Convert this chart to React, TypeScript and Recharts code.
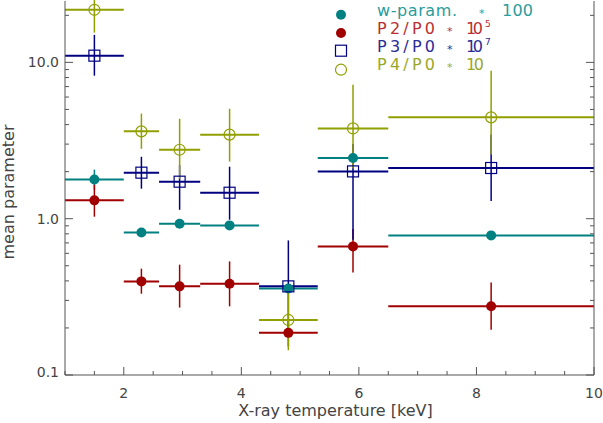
/** Mean multipole parameters against cluster X-ray temperature, log y axis */

import { ErrorBar, Label, Scatter, ScatterChart, XAxis, YAxis } from "recharts";

// temperature bins [keV]
const temperature = [1.5, 2.3, 2.95, 3.8, 4.8, 5.9, 8.25];
const binLow = [1.0, 2.0, 2.6, 3.3, 4.3, 5.3, 6.5];
const binHigh = [2.0, 2.6, 3.3, 4.3, 5.3, 6.5, 10.0];

// w-param. * 100
const wParam = [1.78, 0.817, 0.929, 0.906, 0.358, 2.445, 0.782];
const wParamLow = [1.53, 0.79, 0.9, 0.88, 0.345, 2.36, 0.765];
const wParamHigh = [2.06, 0.845, 0.955, 0.93, 0.372, 2.54, 0.8];

// P2/P0 * 1e5
const p2 = [1.31, 0.397, 0.369, 0.384, 0.186, 0.665, 0.275];
const p2Low = [1.03, 0.331, 0.27, 0.275, 0.152, 0.453, 0.195];
const p2High = [1.65, 0.479, 0.508, 0.533, 0.22, 0.86, 0.39];

// P3/P0 * 1e7
const p3 = [11.04, 1.97, 1.725, 1.466, 0.369, 2.007, 2.11];
const p3Low = [8.22, 1.556, 1.14, 0.985, 0.2, 0.734, 1.3];
const p3High = [15.0, 2.49, 2.2, 2.15, 0.726, 3.0, 3.45];

// P4/P0 * 10
const p4 = [21.7, 3.62, 2.76, 3.45, 0.225, 3.78, 4.45];
const p4Low = [15.5, 2.8, 1.8, 2.32, 0.144, 2.1, 2.57];
const p4High = [30.0, 4.7, 4.36, 5.05, 0.343, 7.2, 8.85];

const xTicks = [1, 1.5, 2, 2.5, 3, 3.5, 4, 4.5, 5, 5.5, 6, 6.5, 7, 7.5, 8, 8.5, 9, 9.5, 10];
const xTickLabels = [2, 4, 6, 8, 10];
const yTicks = [
	0.1, 0.2, 0.3, 0.4, 0.5, 0.6, 0.7, 0.8, 0.9, 1, 2, 3, 4, 5, 6, 7, 8, 9, 10, 20,
];
const yTickLabels: Record<number, string> = { 0.1: "0.1", 1: "1.0", 10: "10.0" };

const TEAL = "#008080";
const RED = "#a00000";
const NAVY = "#000080";
const OLIVE = "#919f00";
const AXIS = "#555";
const FONT = "DejaVu Sans";

function makePoints(values: number[], low: number[], high: number[]) {
	return temperature.map((t, i) => ({
		x: t,
		y: values[i],
		xErr: [t - binLow[i], binHigh[i] - t],
		yErr: [values[i] - low[i], high[i] - values[i]],
	}));
}

const wData = makePoints(wParam, wParamLow, wParamHigh);
const p2Data = makePoints(p2, p2Low, p2High);
const p3Data = makePoints(p3, p3Low, p3High);
const p4Data = makePoints(p4, p4Low, p4High);

function BottomTick(props: any) {
	const { x, y, payload } = props;
	const major = xTickLabels.includes(payload.value);
	return (
		<g>
			<line x1={x} x2={x} y1={y} y2={y - (major ? 8 : 4)} stroke={AXIS} />
			{major && (
				<text x={x} y={y + 23} textAnchor="middle" fontSize={14} fill="#444" fontFamily={FONT}>
					{payload.value}
				</text>
			)}
		</g>
	);
}

function TopTick(props: any) {
	const { x, y, payload } = props;
	const major = xTickLabels.includes(payload.value);
	return <line x1={x} x2={x} y1={y} y2={y + (major ? 8 : 4)} stroke={AXIS} />;
}

function LeftTick(props: any) {
	const { x, y, payload } = props;
	const label = yTickLabels[payload.value];
	return (
		<g>
			<line x1={x} x2={x + (label ? 8 : 4)} y1={y} y2={y} stroke={AXIS} />
			{label && (
				<text
					x={x - 6}
					y={y + (payload.value === 0.1 ? 2 : 5)}
					textAnchor="end"
					fontSize={14}
					fill="#444"
					fontFamily={FONT}
				>
					{label}
				</text>
			)}
		</g>
	);
}

function RightTick(props: any) {
	const { x, y, payload } = props;
	const major = yTickLabels[payload.value] !== undefined;
	return <line x1={x} x2={x - (major ? 8 : 4)} y1={y} y2={y} stroke={AXIS} />;
}

const filledDot = (color: string) => (props: any) => (
	<circle cx={props.cx} cy={props.cy} r={5} fill={color} />
);
const openSquare = (props: any) => (
	<rect x={props.cx - 5.5} y={props.cy - 5.5} width={11} height={11} fill="none" stroke={NAVY} strokeWidth={1.2} />
);
const openCircle = (props: any) => (
	<circle cx={props.cx} cy={props.cy} r={5.5} fill="none" stroke={OLIVE} strokeWidth={1.2} />
);

function Legend() {
	const text = { fontFamily: FONT, fontSize: 16 };
	const star = { fontFamily: FONT, fontSize: 11 };
	const sup = { fontFamily: FONT, fontSize: 9 };
	return (
		<svg width={603} height={423} style={{ position: "absolute", left: 0, top: 0, pointerEvents: "none" }}>
			<circle cx={341} cy={14.7} r={5} fill={TEAL} />
			<circle cx={341} cy={33} r={5} fill={RED} />
			<rect x={335.5} y={45.2} width={11} height={11} fill="none" stroke={NAVY} strokeWidth={1.2} />
			<circle cx={341} cy={69.7} r={5.5} fill="none" stroke={OLIVE} strokeWidth={1.2} />

			<g fill="#2a9c9c">
				<text x={377} y={16} {...text} textLength={80}>w-param.</text>
				<text x={479} y={16.5} {...star}>*</text>
				<text x={502} y={16} {...text} textLength={31}>100</text>
			</g>
			<g fill="#b83030">
				<text x={377} y={34} {...text} textLength={58}>P2/P0</text>
				<text x={447} y={34.5} {...star}>*</text>
				<text x={466} y={34} {...text} textLength={17}>10</text>
				<text x={485} y={27} {...sup}>5</text>
			</g>
			<g fill="#2c2c94">
				<text x={377} y={52} {...text} textLength={58}>P3/P0</text>
				<text x={447} y={52.5} {...star}>*</text>
				<text x={466} y={52} {...text} textLength={17}>10</text>
				<text x={485} y={45} {...sup}>7</text>
			</g>
			<g fill="#9aa82a">
				<text x={377} y={70} {...text} textLength={58}>P4/P0</text>
				<text x={447} y={70.5} {...star}>*</text>
				<text x={466} y={70} {...text} textLength={18}>10</text>
			</g>
		</svg>
	);
}

export default function App(): React.ReactElement {
	const series = [
		{ name: "w", data: wData, color: TEAL, shape: filledDot(TEAL) },
		{ name: "p2", data: p2Data, color: RED, shape: filledDot(RED) },
		{ name: "p3", data: p3Data, color: NAVY, shape: openSquare },
		{ name: "p4", data: p4Data, color: OLIVE, shape: openCircle },
	];

	return (
		<div style={{ position: "absolute", left: 0, top: 0, width: 603, height: 423, background: "#fff" }}>
			<ScatterChart width={603} height={423} margin={{ top: 1, right: 0, bottom: 0, left: 0 }}>
				<XAxis
					xAxisId="bottom"
					type="number"
					dataKey="x"
					domain={[1, 10]}
					allowDataOverflow
					ticks={xTicks}
					interval={0}
					tickSize={0}
					tickMargin={0}
					tickLine={false}
					tick={<BottomTick />}
					axisLine={{ stroke: AXIS }}
					height={48}
				>
					<Label
						content={(p: any) => {
							const vb = p.viewBox;
							return (
								<text
									x={vb.x + vb.width / 2 + 6}
									y={vb.y + 41}
									textAnchor="middle"
									fontSize={16}
									fill="#444"
									fontFamily={FONT}
								>
									X-ray temperature [keV]
								</text>
							);
						}}
					/>
				</XAxis>
				<XAxis
					xAxisId="top"
					orientation="top"
					type="number"
					domain={[1, 10]}
					allowDataOverflow
					ticks={xTicks}
					interval={0}
					tickSize={0}
					tickMargin={0}
					tickLine={false}
					tick={<TopTick />}
					axisLine={{ stroke: AXIS }}
					height={0}
				/>
				<YAxis
					yAxisId="left"
					type="number"
					dataKey="y"
					scale="log"
					domain={[0.1, 24.7]}
					allowDataOverflow
					ticks={yTicks}
					interval={0}
					tickSize={0}
					tickMargin={0}
					tickLine={false}
					tick={<LeftTick />}
					axisLine={{ stroke: AXIS }}
					width={65}
				>
					<Label
						content={() => {
							const cx = 13.5;
							const cy = 192;
							return (
								<text
									x={cx}
									y={cy}
									transform={`rotate(-90, ${cx}, ${cy})`}
									textAnchor="middle"
									fontSize={16}
									fill="#444"
									fontFamily={FONT}
								>
									mean parameter
								</text>
							);
						}}
					/>
				</YAxis>
				<YAxis
					yAxisId="right"
					orientation="right"
					type="number"
					scale="log"
					domain={[0.1, 24.7]}
					allowDataOverflow
					ticks={yTicks}
					interval={0}
					tickSize={0}
					tickMargin={0}
					tickLine={false}
					tick={<RightTick />}
					axisLine={{ stroke: AXIS }}
					width={9}
				/>
				{series.map((s) => (
					<Scatter
						key={s.name}
						xAxisId="bottom"
						yAxisId="left"
						data={s.data}
						shape={s.shape}
						isAnimationActive={false}
					>
						<ErrorBar dataKey="xErr" direction="x" width={0} stroke={s.color} strokeWidth={2} isAnimationActive={false} />
						<ErrorBar dataKey="yErr" direction="y" width={0} stroke={s.color} strokeWidth={1.5} isAnimationActive={false} />
					</Scatter>
				))}
			</ScatterChart>
			<Legend />
		</div>
	);
}
